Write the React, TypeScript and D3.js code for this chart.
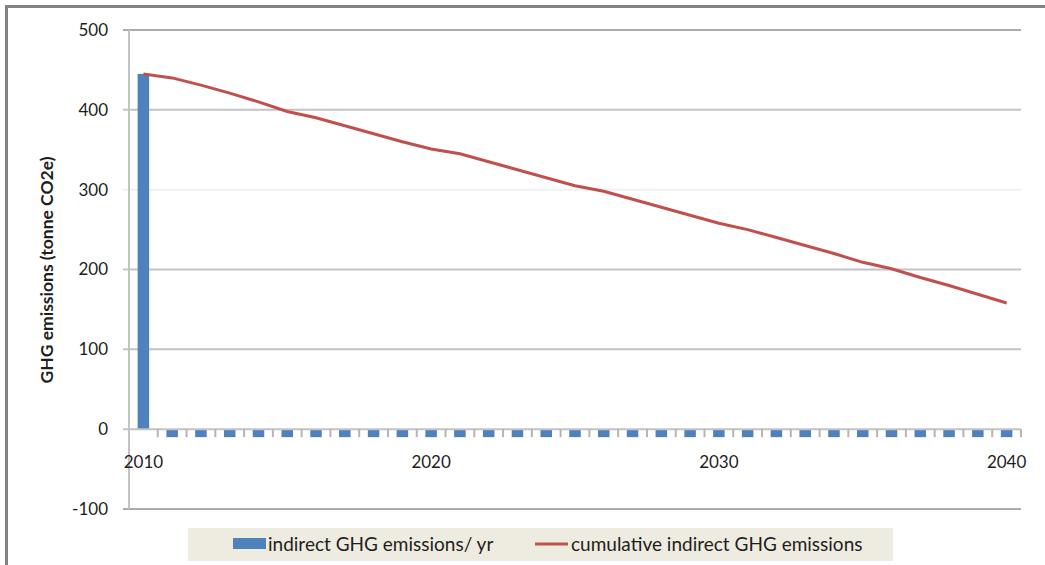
import React from "react";
import * as d3 from "d3";

// chart data
const years: string[] = [
  "2010", "2011", "2012", "2013", "2014", "2015", "2016", "2017", "2018", "2019",
  "2020", "2021", "2022", "2023", "2024", "2025", "2026", "2027", "2028", "2029",
  "2030", "2031", "2032", "2033", "2034", "2035", "2036", "2037", "2038", "2039", "2040",
];
const annualEmissions: number[] = [
  445, -10, -10, -10, -10, -10, -10, -10, -10, -10,
  -10, -10, -10, -10, -10, -10, -10, -10, -10, -10,
  -10, -10, -10, -10, -10, -10, -10, -10, -10, -10, -10,
];
const cumulativeEmissions: number[] = [
  445, 440, 431, 421, 410, 398, 390, 380, 370, 360,
  351, 345, 335, 325, 315, 305, 298, 288, 278, 268,
  258, 250, 240, 230, 220, 209, 201, 190, 180, 169, 158,
];
const yTicks: number[] = [-100, 0, 100, 200, 300, 400, 500];
const xLabels: string[] = ["2010", "2020", "2030", "2040"];
const seriesNames: string[] = ["indirect GHG emissions/ yr", "cumulative indirect GHG emissions"];
const yTitle = "GHG emissions (tonne CO2e)";

class EmissionsChart extends React.Component {
  svgRef: any = React.createRef();

  componentDidMount() {
    this.draw();
  }

  draw() {
    var width = 1045;
    var height = 565;
    var font = "Lato, 'Open Sans', sans-serif";
    var textColor = "#1e1e1e";

    var svg = d3.select(this.svgRef.current);
    svg.selectAll("*").remove();
    svg.attr("width", width).attr("height", height);

    svg.append("rect").attr("width", width).attr("height", height).attr("fill", "#fff");

    // outer frame (top and left only are visible)
    svg.append("line").attr("x1", 5).attr("x2", width).attr("y1", 6.5).attr("y2", 6.5)
      .attr("stroke", "#828282").attr("stroke-width", 3);
    svg.append("line").attr("x1", 6.5).attr("x2", 6.5).attr("y1", 5).attr("y2", height)
      .attr("stroke", "#828282").attr("stroke-width", 3);

    var left = 129, right = 1021, top = 30, bottom = 509;

    var x = d3.scaleBand().domain(years).range([left, right]).paddingInner(0.6).paddingOuter(0.3);
    var step = x.step();
    var y = d3.scaleLinear().domain([-100, 500]).range([bottom, top]);

    // gridlines
    svg.append("g").selectAll("line")
      .data(yTicks.filter(function (t) { return t !== 0; }))
      .enter().append("line")
      .attr("x1", left - 6).attr("x2", right)
      .attr("y1", function (d) { return y(d); }).attr("y2", function (d) { return y(d); })
      .attr("stroke", function (d) { return d === 300 ? "#f1f1f1" : d === 500 || d === -100 ? "#ababab" : "#c3c3c3"; })
      .attr("stroke-width", 2);

    // y axis line
    svg.append("line").attr("x1", left).attr("x2", left).attr("y1", top).attr("y2", bottom)
      .attr("stroke", "#c3c3c3").attr("stroke-width", 2);

    // bars
    svg.append("g").selectAll("rect")
      .data(annualEmissions)
      .enter().append("rect")
      .attr("x", function (d, i) { return x(years[i]) as number; })
      .attr("width", x.bandwidth())
      .attr("y", function (d) { return y(Math.max(0, d)); })
      .attr("height", function (d) { return Math.abs(y(d) - y(0)); })
      .attr("fill", "#4f81bd");

    // x axis line + category ticks
    svg.append("line").attr("x1", left - 6).attr("x2", right).attr("y1", y(0)).attr("y2", y(0))
      .attr("stroke", "#c3c3c3").attr("stroke-width", 2);
    svg.append("g").selectAll("line")
      .data(years)
      .enter().append("line")
      .attr("x1", function (d) { return (x(d) as number) - step * 0.3 + step; })
      .attr("x2", function (d) { return (x(d) as number) - step * 0.3 + step; })
      .attr("y1", y(0)).attr("y2", y(0) + 8)
      .attr("stroke", "#b5b5b5").attr("stroke-width", 2);

    // cumulative line
    var line = d3.line<number>()
      .x(function (d, i) { return (x(years[i]) as number) + x.bandwidth() / 2; })
      .y(function (d) { return y(d); });
    svg.append("path").datum(cumulativeEmissions)
      .attr("d", line)
      .attr("fill", "none")
      .attr("stroke", "#c0504d")
      .attr("stroke-width", 3);

    // y tick labels
    svg.append("g").selectAll("text")
      .data(yTicks)
      .enter().append("text")
      .attr("x", 108).attr("y", function (d) { return y(d); })
      .attr("dy", "0.35em")
      .attr("text-anchor", "end")
      .attr("font-family", font).attr("font-size", 17).attr("fill", textColor)
      .text(function (d) { return String(d); });

    // x tick labels
    svg.append("g").selectAll("text")
      .data(xLabels)
      .enter().append("text")
      .attr("x", function (d) { return (x(d) as number) + x.bandwidth() / 2; })
      .attr("y", 462).attr("dy", "0.35em")
      .attr("text-anchor", "middle")
      .attr("font-family", font).attr("font-size", 17).attr("fill", textColor)
      .text(function (d) { return d; });

    // y axis title
    svg.append("text")
      .attr("transform", "translate(53,270) rotate(-90)")
      .attr("text-anchor", "middle")
      .attr("font-family", font).attr("font-size", 17.5).attr("font-weight", "bold").attr("fill", textColor)
      .text(yTitle);

    // legend
    var legend = svg.append("g");
    legend.append("rect").attr("x", 188).attr("y", 528).attr("width", 705).attr("height", 33)
      .attr("fill", "#eeebe0");
    legend.append("rect").attr("x", 233).attr("y", 538).attr("width", 33).attr("height", 11)
      .attr("fill", "#4f81bd");
    legend.append("text").attr("x", 268).attr("y", 544).attr("dy", "0.35em")
      .attr("font-family", font).attr("font-size", 19).attr("fill", textColor)
      .text(seriesNames[0]);
    legend.append("line").attr("x1", 535).attr("x2", 568).attr("y1", 544).attr("y2", 544)
      .attr("stroke", "#c0504d").attr("stroke-width", 3);
    legend.append("text").attr("x", 571).attr("y", 544).attr("dy", "0.35em")
      .attr("font-family", font).attr("font-size", 19).attr("fill", textColor)
      .text(seriesNames[1]);
  }

  render() {
    return (
      <svg ref={this.svgRef} style={{ position: "absolute", left: 0, top: 0, display: "block" }}></svg>
    );
  }
}

export default function App() {
  return <EmissionsChart />;
}
